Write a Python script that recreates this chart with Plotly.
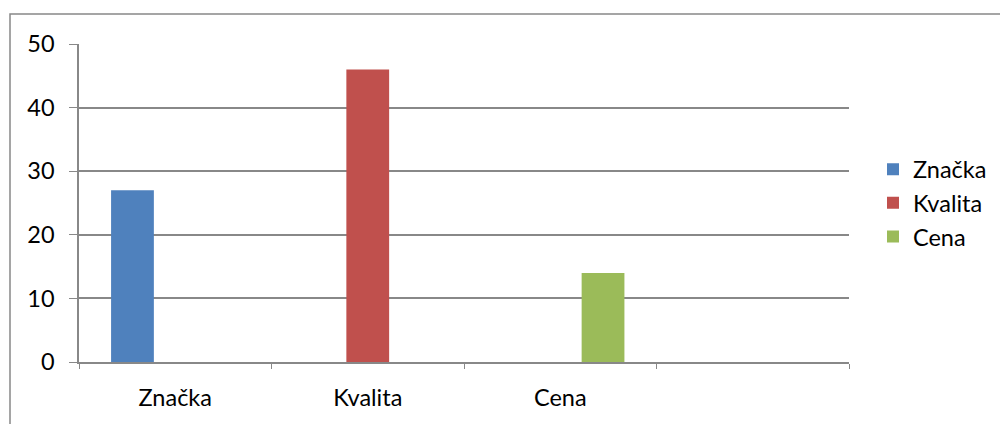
import plotly.graph_objects as go

categories = ["Značka", "Kvalita", "Cena", " "]
series_names = ["Značka", "Kvalita", "Cena"]
znacka_vals = [27, None, None, None]
kvalita_vals = [None, 46, None, None]
cena_vals = [None, None, 14, None]
y_ticks = [0, 10, 20, 30, 40, 50]

colors = ["#4F81BD", "#C0504D", "#9BBB59"]
FONT = "Lato, Carlito, Calibri, sans-serif"

fig = go.Figure()
for name, vals, col in zip(series_names, [znacka_vals, kvalita_vals, cena_vals], colors):
    fig.add_trace(go.Bar(name=name, x=categories, y=vals, marker=dict(color=col, line=dict(width=0))))

W, H = 1000, 424
L, R, T, B = 79, 151, 44, 62
pw, ph = W - L - R, H - T - B

fig.update_layout(
    width=W, height=H,
    margin=dict(l=L, r=R, t=T, b=B, autoexpand=False),
    paper_bgcolor="white", plot_bgcolor="white",
    barmode="group", bargap=1.5 / 4.5, bargroupgap=0,
    font=dict(family=FONT, size=23.5, color="black"),
    legend=dict(x=(873 - L) / pw, y=0.5, xanchor="left", yanchor="middle",
                font=dict(size=23.5), itemsizing="constant", tracegroupgap=0,
                bgcolor="rgba(0,0,0,0)"),
    xaxis=dict(type="category", categoryorder="array", categoryarray=categories,
               tickson="boundaries", ticks="outside", ticklen=5, tickcolor="#888888",
               showline=True, linecolor="#888888", linewidth=1.5, showgrid=False,
               range=[-0.5, 3.5], fixedrange=True, ticklabelstandoff=14),
    yaxis=dict(range=[0, 50], tickvals=y_ticks, ticks="outside", ticklen=8,
               tickcolor="#888888", showline=True, linecolor="#888888", linewidth=1.5,
               showgrid=True, gridcolor="#888888", gridwidth=1.5, zeroline=False,
               ticklabelstandoff=10),
    shapes=[dict(type="rect", xref="paper", yref="paper",
                 x0=(10 - L) / pw, x1=(1010 - L) / pw,
                 y0=-(440 - (H - B)) / ph, y1=((H - B) - 14) / ph,
                 line=dict(color="#888888", width=1.5), layer="below")],
)
fig.write_html("out.html")
